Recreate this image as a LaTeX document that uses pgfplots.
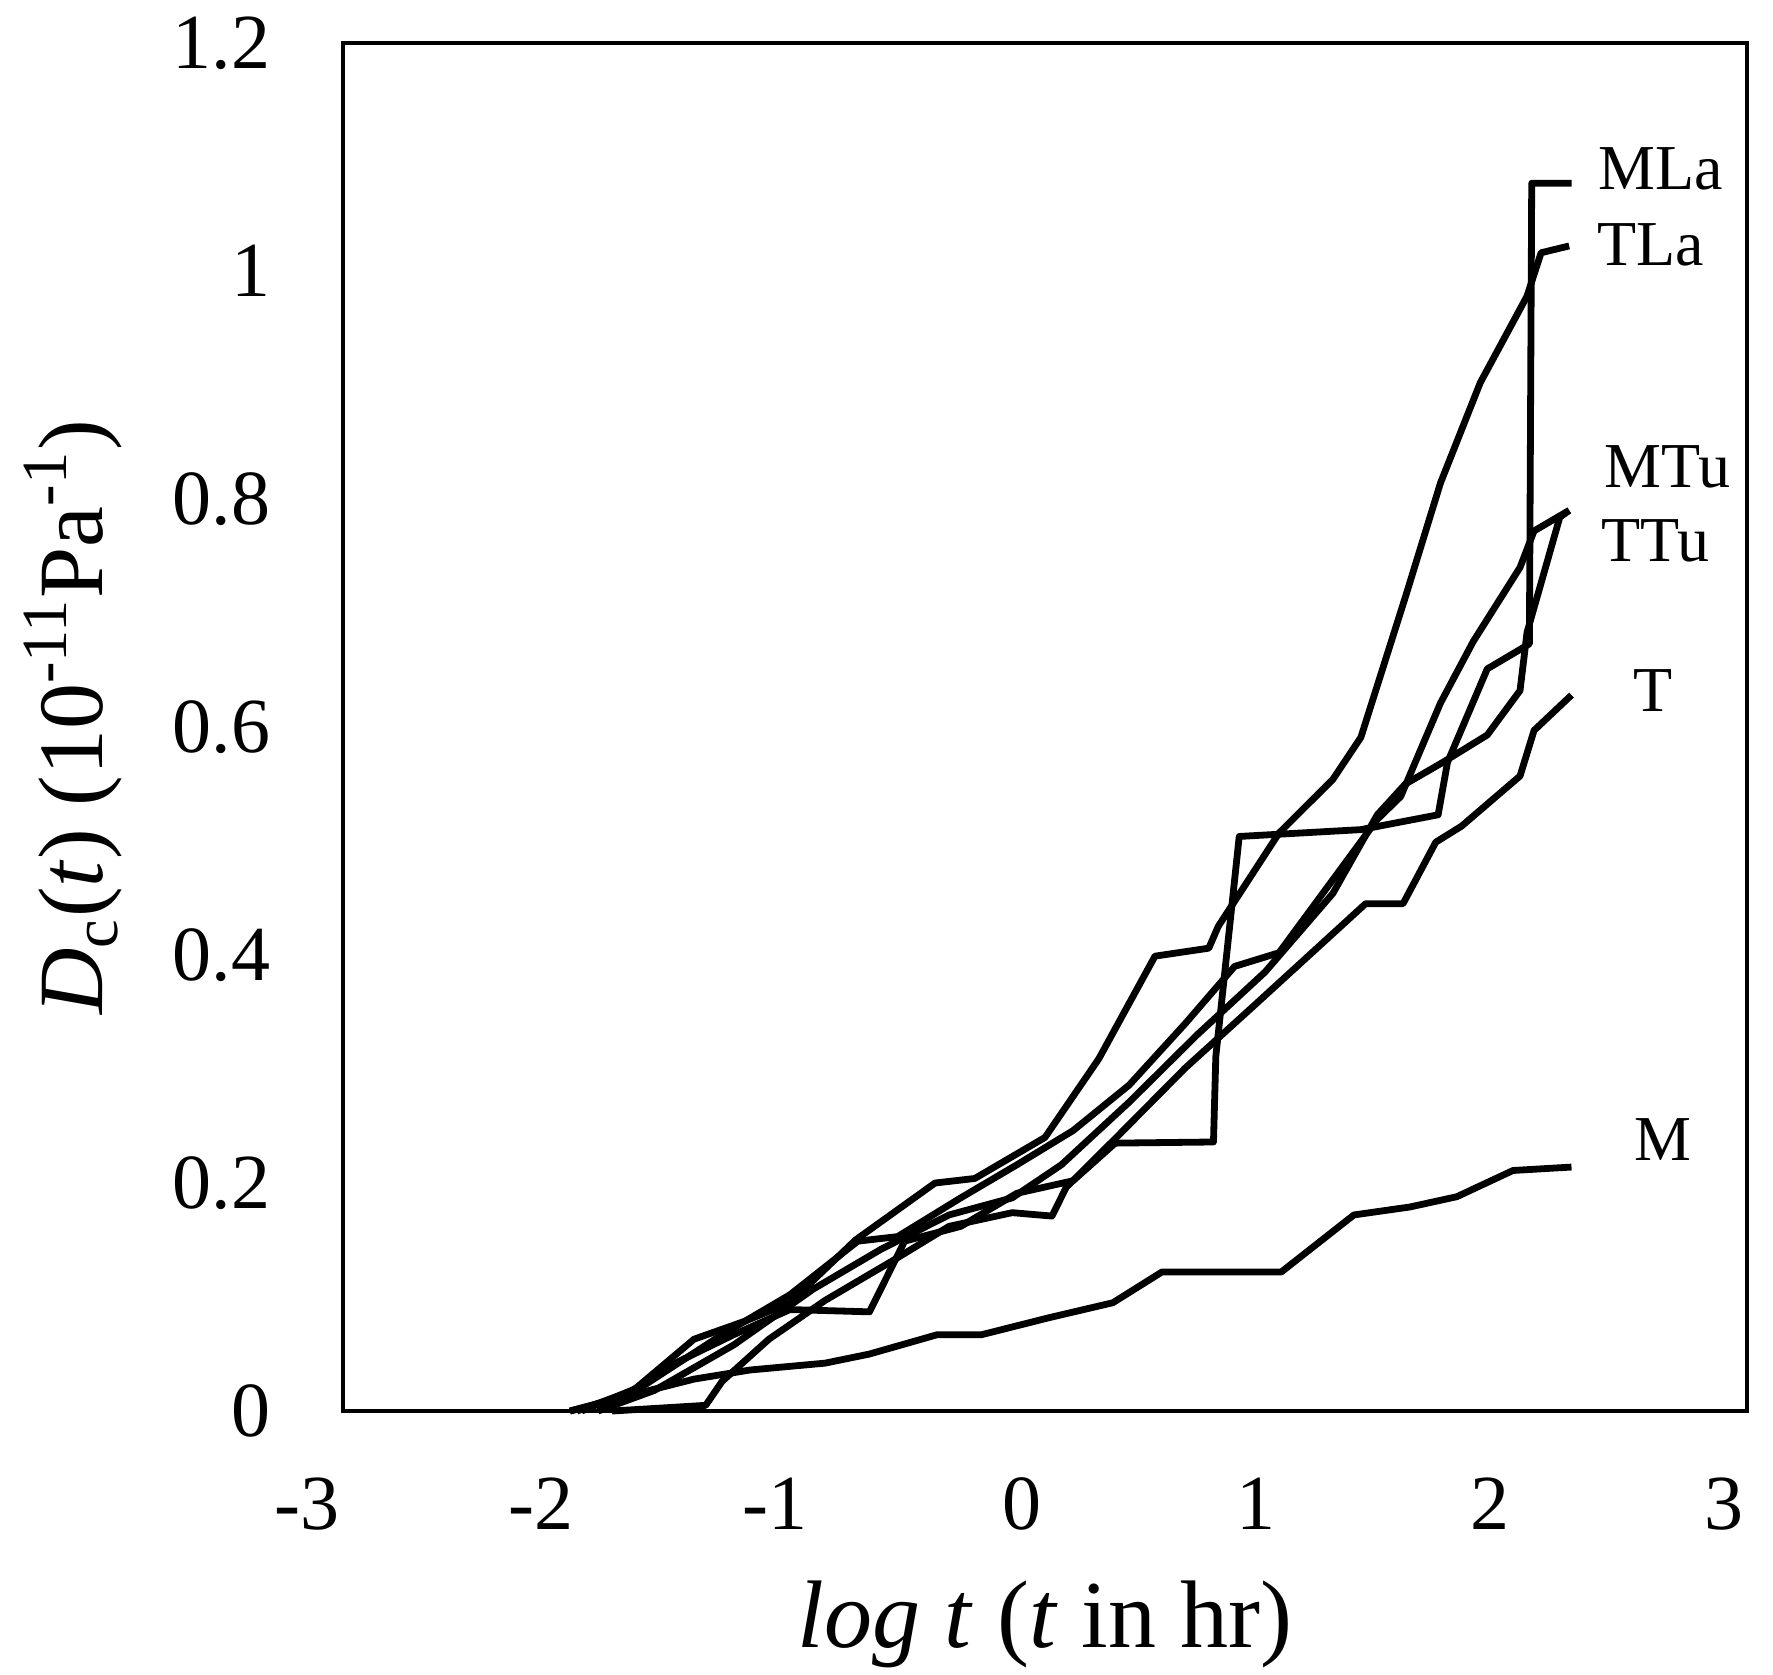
\documentclass[border=0pt]{standalone}
\usepackage{fontspec}
\setmainfont{Liberation Serif}
\usepackage{pgfplots}
\pgfplotsset{compat=1.18}
\tikzset{crv/.style={black, solid, line width=1.7pt, line join=round, mark=none}}
\begin{document}
\begin{tikzpicture}
\begin{axis}[
  scale only axis, width=351pt, height=342pt,
  xmin=-3, xmax=3, ymin=0, ymax=1.2,
  clip=false,
  axis line style={line width=1pt},
  xtick={-3,-2,-1,0,1,2,3},
  xticklabels={\llap{-}3,\llap{-}2,\llap{-}1,0,1,2,3},
  ytick={0,0.2,0.4,0.6,0.8,1,1.2},
  yticklabels={0,0.2,0.4,0.6,0.8,1,1.2},
  major tick length=0pt,
  tick label style={font=\fontsize{19.5}{20}\selectfont, inner sep=0pt, text=black},
  xticklabel style={anchor=north, yshift=-16.5pt, xshift=-5.75pt},
  yticklabel style={anchor=east, xshift=-18pt},
  xlabel={\textit{log t} (\textit{t} in hr)},
  ylabel={\textit{D}\textsubscript{c}(\textit{t}) (10\textsuperscript{-11}Pa\textsuperscript{-1})},
  xlabel style={at={(axis description cs:0.5,-0.1725)}, anchor=base, font=\fontsize{24}{24}\selectfont, inner sep=0pt},
  ylabel style={at={(axis description cs:-0.171,0.507)}, anchor=base, font=\fontsize{23}{23}\selectfont, inner sep=0pt},
]
% MLa
\addplot[crv] coordinates {(-2.03,0) (-1.81,0.012) (-1.57,0.043) (-1.33,0.067) (-1.09,0.089) (-0.75,0.087) (-0.60,0.149) (-0.36,0.162) (-0.12,0.191) (0.12,0.202) (0.30,0.235) (0.72,0.236) (0.73,0.311) (0.83,0.504) (1.35,0.510) (1.68,0.523) (1.72,0.569) (1.89,0.651) (2.03,0.668) (2.07,0.673) (2.08,1.077) (2.25,1.077)};
% TLa
\addplot[crv] coordinates {(-2.00,0) (-1.76,0.018) (-1.50,0.063) (-1.28,0.079) (-1.09,0.095) (-0.81,0.150) (-0.47,0.200) (-0.30,0.204) (0.00,0.240) (0.23,0.309) (0.47,0.399) (0.70,0.406) (0.74,0.425) (1.00,0.507) (1.23,0.554) (1.35,0.591) (1.54,0.714) (1.69,0.814) (1.86,0.902) (2.06,0.978) (2.12,1.016) (2.24,1.022)};
% MTu
\addplot[crv] coordinates {(-1.98,0) (-1.71,0.023) (-1.38,0.067) (-1.09,0.102) (-0.80,0.149) (-0.63,0.153) (-0.36,0.187) (-0.12,0.216) (0.12,0.246) (0.36,0.286) (0.60,0.340) (0.81,0.390) (1.00,0.402) (1.42,0.519) (1.52,0.539) (1.69,0.621) (1.83,0.675) (2.03,0.740) (2.09,0.772) (2.24,0.790)};
% TTu
\addplot[crv] coordinates {(-1.91,0) (-1.67,0.018) (-1.33,0.058) (-0.99,0.107) (-0.70,0.142) (-0.41,0.172) (-0.14,0.187) (0.07,0.216) (0.36,0.271) (0.65,0.330) (0.94,0.385) (1.23,0.454) (1.42,0.523) (1.54,0.550) (1.70,0.569) (1.89,0.593) (2.03,0.632) (2.06,0.683) (2.20,0.784) (2.24,0.790)};
% T
\addplot[crv] coordinates {(-1.85,0) (-1.45,0.005) (-1.38,0.026) (-1.18,0.063) (-0.94,0.097) (-0.65,0.132) (-0.41,0.162) (-0.14,0.174) (0.03,0.171) (0.09,0.196) (0.31,0.241) (0.60,0.301) (0.89,0.355) (1.13,0.400) (1.37,0.445) (1.53,0.445) (1.67,0.499) (1.78,0.513) (2.03,0.557) (2.09,0.597) (2.25,0.628)};
% M
\addplot[crv] coordinates {(-2.03,0) (-1.75,0.015) (-1.50,0.028) (-1.26,0.036) (-0.94,0.042) (-0.75,0.050) (-0.46,0.067) (-0.27,0.067) (0.02,0.082) (0.29,0.095) (0.50,0.122) (1.01,0.122) (1.32,0.172) (1.56,0.179) (1.76,0.188) (2.00,0.211) (2.25,0.214)};
\begin{scope}[every node/.style={font=\fontsize{16}{16}\selectfont, inner sep=0pt, anchor=center}]
\node at (axis cs:2.63,1.090) {MLa};
\node at (axis cs:2.59,1.023) {TLa};
\node at (axis cs:2.66,0.828) {MTu};
\node at (axis cs:2.61,0.763) {TTu};
\node at (axis cs:2.60,0.632) {T};
\node at (axis cs:2.64,0.238) {M};
\end{scope}
\end{axis}
\pgfresetboundingbox
\path[use as bounding box] ([xshift=-85.75pt,yshift=-65.75pt]current axis.south west) rectangle ([xshift=6.5pt,yshift=10.75pt]current axis.north east);
\end{tikzpicture}
\end{document}
